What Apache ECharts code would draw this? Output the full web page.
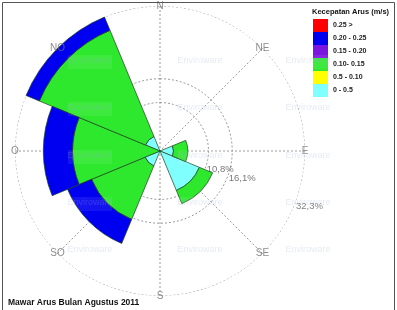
<!DOCTYPE html>
<html>
<head>
<meta charset="utf-8">
<script src="https://cdn.jsdelivr.net/npm/echarts@6/dist/echarts.min.js"></script>
<style>html,body{margin:0;padding:0;background:#fff}#c{width:397px;height:310px}</style>
</head>
<body>
<div id="c"></div>
<script>
// ---- data ----
const directions = ['N', 'NE', 'E', 'SE', 'S', 'SW', 'W', 'NW'];
const dirLabels = ['N', 'NE', 'E', 'SE', 'S', 'SO', 'O', 'NO'];
const dirAngles = [0, 45, 90, 135, 180, 225, 270, 315];
const speedClasses = ['0 - 0.5', '0.5 - 0.10', '0.10- 0.15', '0.15 - 0.20', '0.20 - 0.25', '0.25 >'];
const speed_0_05    = [0, 0, 3.0, 9.5, 0, 3.6, 0, 3.5];
const speed_05_010  = [0, 0, 0, 0, 0, 0, 0, 0];
const speed_010_015 = [0, 0, 3.2, 3.2, 0, 12.9, 19.5, 25.6];
const speed_015_020 = [0, 0, 0, 0, 0, 0, 0, 0];
const speed_020_025 = [0, 0, 0, 0, 0, 5.8, 6.5, 3.2];
const speed_025_up  = [0, 0, 0, 0, 0, 0, 0, 0];
const ringValues = [10.8, 16.1, 32.3];
const ringLabels = ['10,8%', '16,1%', '32,3%'];
const ringLabelAngle = 112.5;
const maxPct = 32.3;
const chartTitle = 'Mawar Arus Bulan Agustus 2011';
const legendTitle = 'Kecepatan Arus (m/s)';

// ---- styles ----
const classColors = ['#80ffff', '#ffff00', '#2ee82e', '#7a16e0', '#0000f0', '#ff0000'];
const classData = [speed_0_05, speed_05_010, speed_010_015, speed_015_020, speed_020_025, speed_025_up];
const CENTER = [160, 151];
const RADIUS = 145;
const FONT = 'Liberation Sans, Arial, sans-serif';

const chart = echarts.init(document.getElementById('c'), null, {renderer: 'canvas'});

const ringAngles = [];
for (let a = 0; a <= 360; a += 4) ringAngles.push(a);

const series = [];
ringValues.forEach((v, i) => {
  series.push({
    type: 'line', coordinateSystem: 'polar', polarIndex: 1,
    data: ringAngles.map(a => [v, a]),
    symbol: 'none', silent: true, z: 1,
    lineStyle: {color: '#9a9a9a', width: 1, type: [2, 2]}
  });
});
series.push({
  type: 'scatter', coordinateSystem: 'polar', polarIndex: 1,
  data: ringValues.map(v => [v, ringLabelAngle]),
  symbolSize: 0, silent: true, z: 1,
  label: {show: true, position: 'right', distance: 2,
    formatter: p => ringLabels[p.dataIndex],
    color: '#555', fontSize: 9.5, fontFamily: FONT}
});
classData.forEach((arr, i) => {
  series.push({
    name: speedClasses[i], type: 'bar', coordinateSystem: 'polar', polarIndex: 0,
    stack: 'rose', barCategoryGap: '0%',
    data: arr.map(v => v === 0 ? '-' : v),
    itemStyle: {color: classColors[i], borderColor: '#1f3f1f', borderWidth: 0.7},
    z: 3, silent: true
  });
});
series.push({
  type: 'scatter', coordinateSystem: 'polar', polarIndex: 1,
  data: dirAngles.map(a => [maxPct, a]),
  symbolSize: 0, silent: true, z: 6,
  label: {show: true, position: 'inside',
    formatter: p => dirLabels[p.dataIndex],
    color: '#707070', fontSize: 10, fontFamily: FONT}
});

// watermark (decorative)
const wmX = [90, 200, 308], wmY = [62, 109, 157, 204, 251];
const graphics = [{
  type: 'rect', shape: {x: 2.5, y: 2.5, width: 392, height: 320},
  style: {fill: null, stroke: '#555', lineWidth: 1}, z: 100, silent: true
}];
wmX.forEach(x => wmY.forEach(y => {
  graphics.push({type: 'rect', shape: {x: x - 22, y: y - 7, width: 44, height: 14},
    style: {fill: 'rgba(255,255,255,0.08)'}, z: 50, silent: true});
  graphics.push({type: 'text', x: x, y: y - 1,
    style: {text: 'Enviroware', fill: 'rgba(150,170,210,0.25)', font: '9px ' + FONT,
      textAlign: 'center', textVerticalAlign: 'middle'}, z: 51, silent: true});
}));

chart.setOption({
  animation: false,
  backgroundColor: '#fff',
  title: [
    {text: chartTitle, left: 8, top: 298, padding: 0,
      textStyle: {fontSize: 8.5, fontWeight: 'bold', color: '#111', fontFamily: FONT}},
    {text: legendTitle, left: 312, top: 8, padding: 0,
      textStyle: {fontSize: 7.5, fontWeight: 'bold', color: '#111', fontFamily: FONT}}
  ],
  legend: {
    data: speedClasses.slice().reverse(),
    orient: 'vertical', left: 313, top: 19, padding: 0,
    itemWidth: 15, itemHeight: 13, itemGap: 0, icon: 'rect',
    itemStyle: {borderWidth: 0},
    selectedMode: false,
    textStyle: {fontSize: 7, fontWeight: 'bold', color: '#222', fontFamily: FONT}
  },
  polar: [
    {center: CENTER, radius: RADIUS},
    {center: CENTER, radius: RADIUS}
  ],
  angleAxis: [
    {polarIndex: 0, type: 'category', data: directions, startAngle: 112.5, clockwise: true,
      boundaryGap: true, axisLine: {show: false}, axisTick: {show: false},
      axisLabel: {show: false}, splitLine: {show: false}},
    {polarIndex: 1, type: 'value', min: 0, max: 360, interval: 45, startAngle: 90, clockwise: true,
      axisLine: {show: false}, axisTick: {show: false}, axisLabel: {show: false},
      splitLine: {show: true, lineStyle: {color: '#9a9a9a', width: 1, type: [2, 2]}}}
  ],
  radiusAxis: [
    {polarIndex: 0, type: 'value', min: 0, max: maxPct, show: false,
      axisLine: {show: false}, axisTick: {show: false}, axisLabel: {show: false}, splitLine: {show: false}},
    {polarIndex: 1, type: 'value', min: 0, max: maxPct, show: false,
      axisLine: {show: false}, axisTick: {show: false}, axisLabel: {show: false}, splitLine: {show: false}}
  ],
  graphic: graphics,
  series: series
});
</script>
</body>
</html>
